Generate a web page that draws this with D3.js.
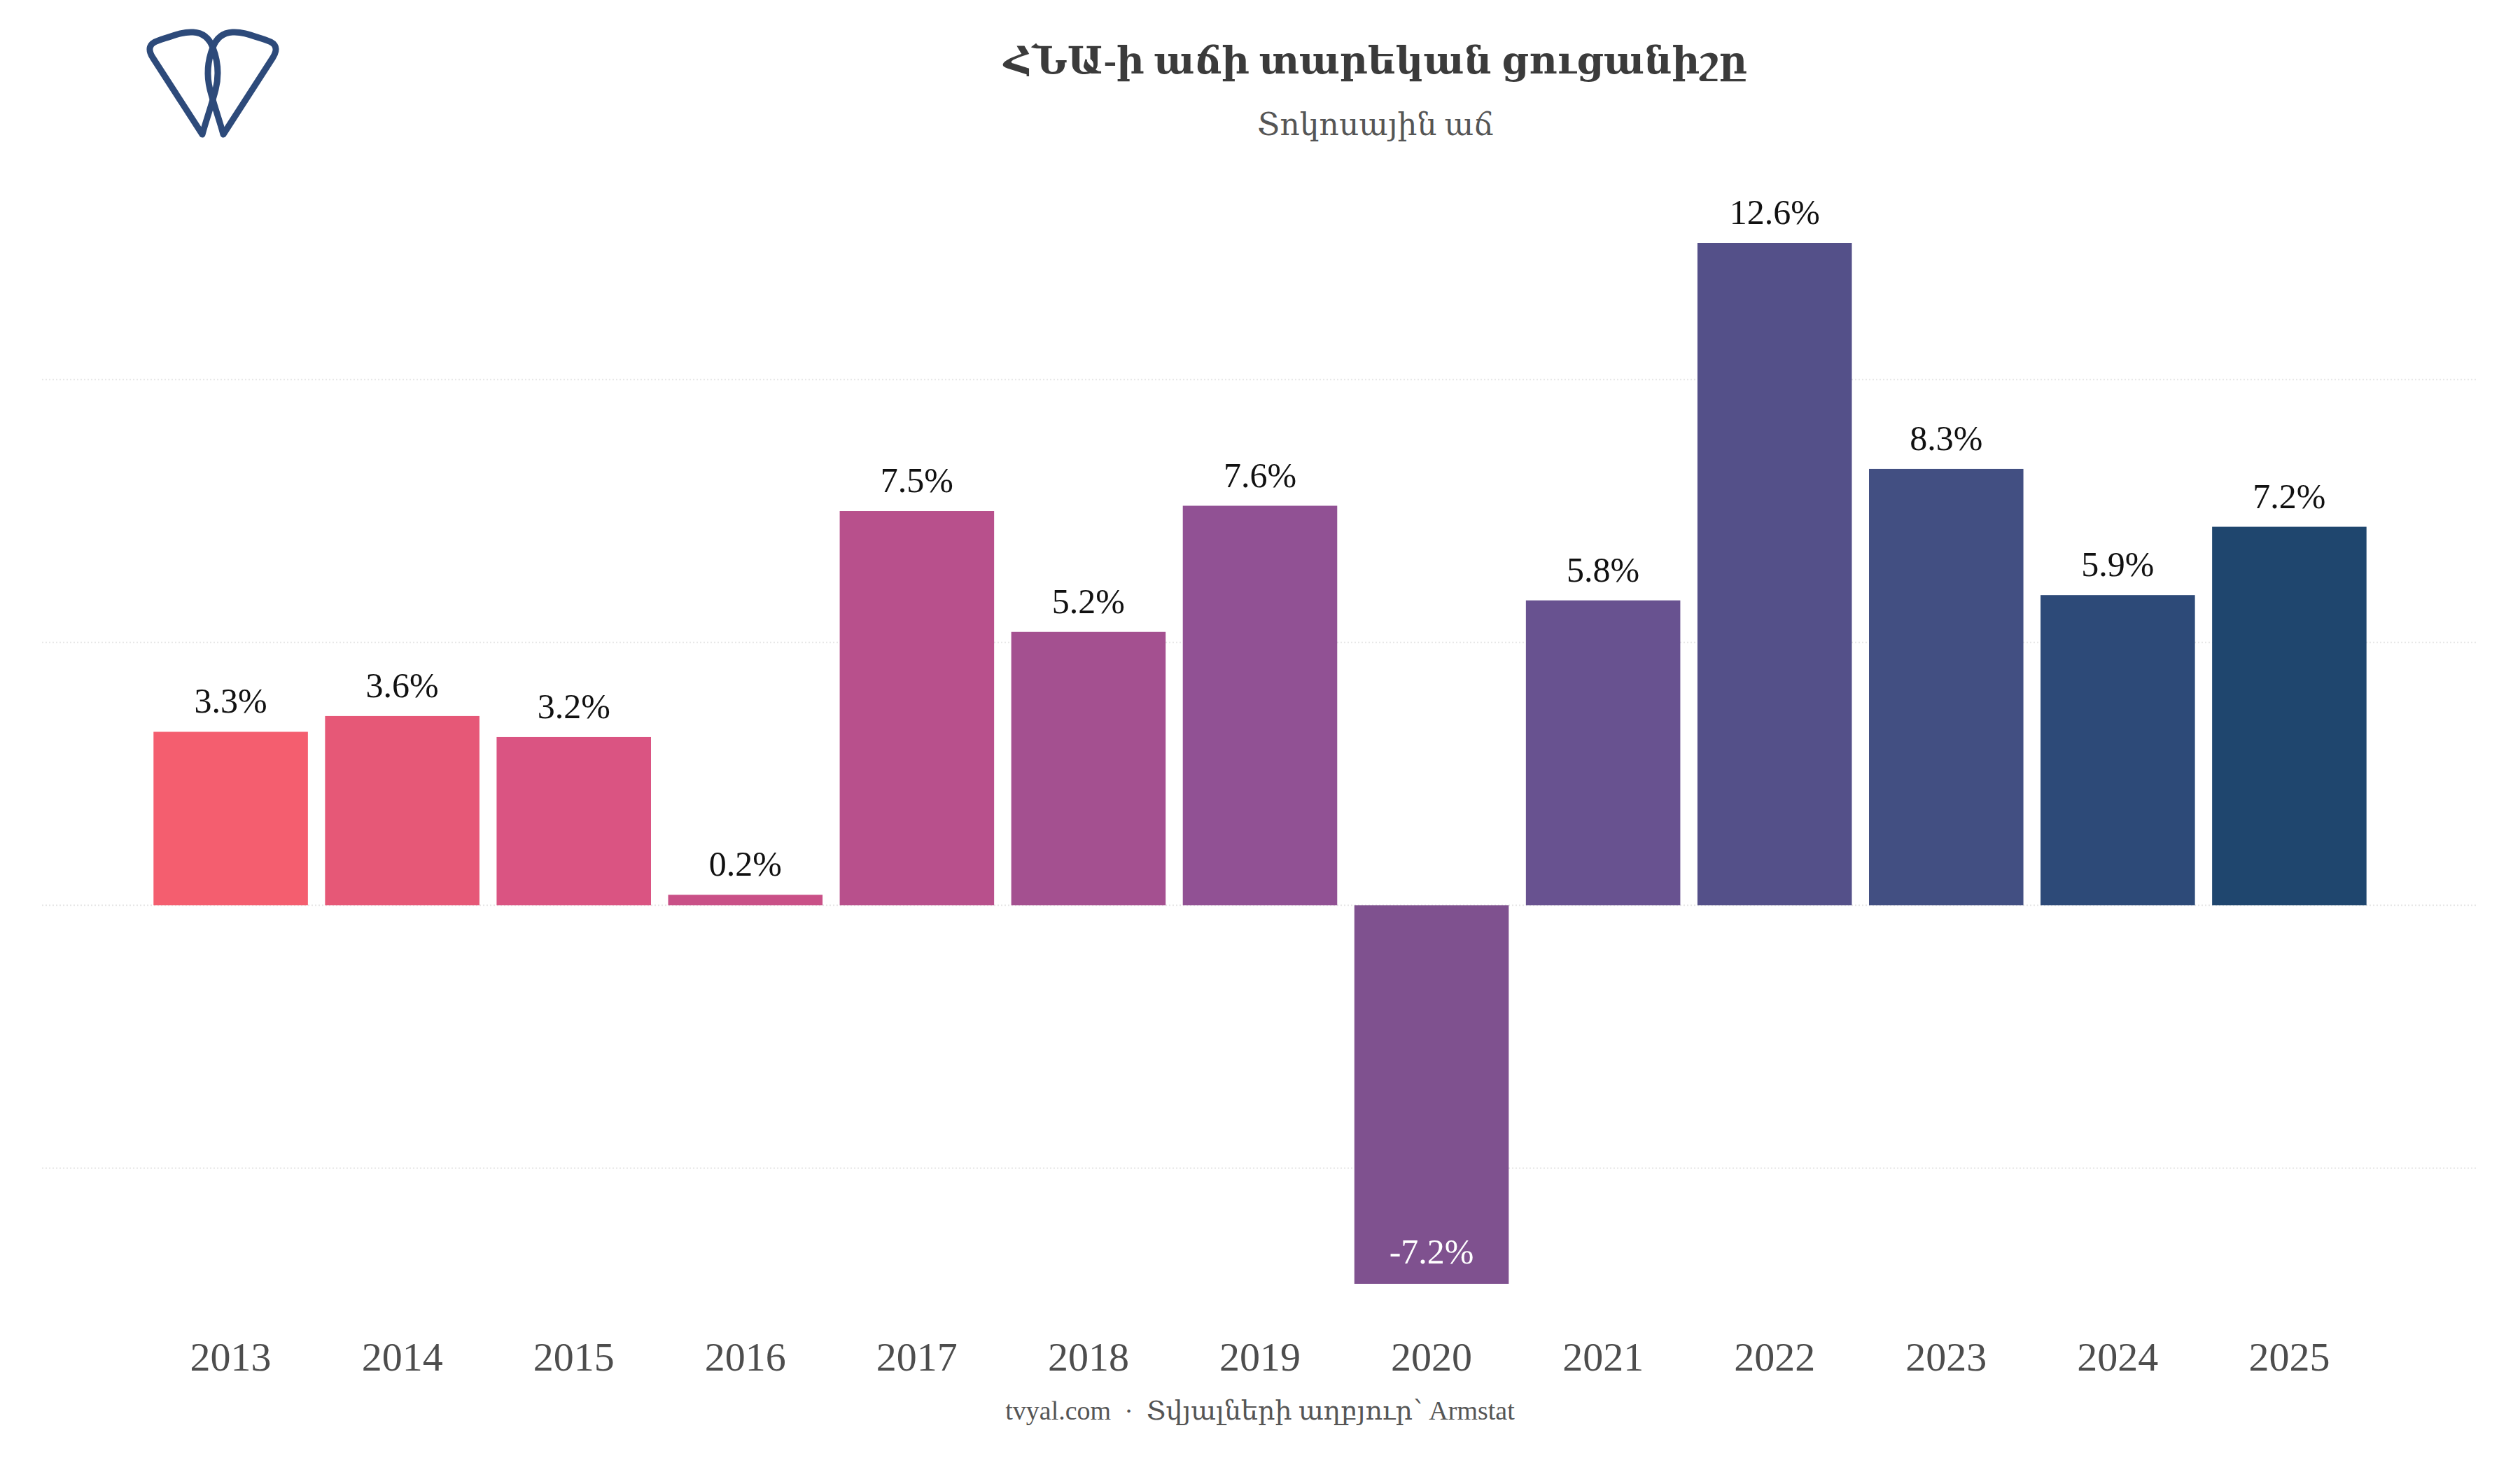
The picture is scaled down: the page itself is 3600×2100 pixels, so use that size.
<!DOCTYPE html>
<html>
<head>
<meta charset="utf-8">
<script src="https://cdn.jsdelivr.net/npm/d3@7"></script>
<style>
	body { margin: 0; background: #fff; }
	svg text { font-family: "Liberation Serif", "DejaVu Serif", serif; }
</style>
</head>
<body>
<svg id="chart"></svg>
<script>
// data
const years = ["2013", "2014", "2015", "2016", "2017", "2018", "2019", "2020", "2021", "2022", "2023", "2024", "2025"];
const growth = [3.3, 3.6, 3.2, 0.2, 7.5, 5.2, 7.6, -7.2, 5.8, 12.6, 8.3, 5.9, 7.2];
const barColors = ["#f45e6f", "#e65877", "#da5482", "#c95087", "#b8508c", "#a45090", "#915194",
	"#7f518f", "#685290", "#545089", "#424f82", "#2d4a78", "#1f466e"];
const gridTicks = [-5, 0, 5, 10];

const titleText = "ՀՆԱ-ի աճի տարեկան ցուցանիշը";
const subtitleText = "Տոկոսային աճ";
const captionText = "tvyal.com  ·  Տվյալների աղբյուր՝ Armstat";

const W = 3600, H = 2100;

const svg = d3.select("#chart")
	.attr("width", W)
	.attr("height", H);

let x = d3.scaleBand()
	.domain(years)
	.range([60, 3540])
	.paddingInner(0.1)
	.paddingOuter(0.65);

let y = d3.scaleLinear()
	.domain(d3.extent(growth))
	.range([1834, 347]);

// grid lines
svg.append("g")
	.selectAll("line")
	.data(gridTicks)
	.join("line")
	.attr("x1", 60)
	.attr("x2", 3540)
	.attr("y1", d => y(d))
	.attr("y2", d => y(d))
	.attr("stroke", "#e6e6e6")
	.attr("stroke-width", 2)
	.attr("stroke-dasharray", "2,3");

// bars
svg.append("g")
	.selectAll("rect")
	.data(years)
	.join("rect")
	.attr("x", d => x(d))
	.attr("width", x.bandwidth())
	.attr("y", (d, i) => y(Math.max(0, growth[i])))
	.attr("height", (d, i) => Math.abs(y(growth[i]) - y(0)))
	.attr("fill", (d, i) => barColors[i]);

// value labels
svg.append("g")
	.selectAll("text")
	.data(years)
	.join("text")
	.attr("x", d => x(d) + x.bandwidth() / 2)
	.attr("y", (d, i) => growth[i] >= 0 ? y(growth[i]) - 27 : y(growth[i]) - 29)
	.attr("text-anchor", "middle")
	.attr("font-size", 50)
	.attr("fill", (d, i) => growth[i] >= 0 ? "#111" : "#fff")
	.text((d, i) => growth[i].toFixed(1) + "%");

// x axis labels
let xAxis = d3.axisBottom(x).tickSize(0).tickPadding(0);
let gx = svg.append("g")
	.attr("transform", "translate(0,1912)")
	.call(xAxis);
gx.select(".domain").remove();
gx.selectAll("text")
	.attr("font-size", 58)
	.attr("fill", "#4d4d4d")
	.attr("dy", "0.8em")
	.style("font-family", "'Liberation Serif', serif");

// titles
svg.append("text")
	.attr("x", 1965)
	.attr("y", 105)
	.attr("text-anchor", "middle")
	.attr("font-size", 55)
	.attr("font-weight", "bold")
	.attr("fill", "#3b3b3b")
	.text(titleText);

svg.append("text")
	.attr("x", 1965)
	.attr("y", 193)
	.attr("text-anchor", "middle")
	.attr("font-size", 44)
	.attr("fill", "#555")
	.text(subtitleText);

svg.append("text")
	.attr("x", 1800)
	.attr("y", 2028)
	.attr("text-anchor", "middle")
	.attr("font-size", 38)
	.attr("fill", "#555")
	.style("white-space", "pre")
	.text(captionText);

// logo
const logo = svg.append("g")
	.attr("fill", "none")
	.attr("stroke", "#2d4a7a")
	.attr("stroke-width", 9)
	.attr("stroke-linejoin", "round")
	.attr("stroke-linecap", "round");
const petal = "M 289,192 L 218,82 Q 207,64 226,58 C 250,50 262,45 276,46 C 292,47 300,57 304,68 C 311,86 313,108 308,128 C 303,148 295,170 289,192 Z";
logo.append("path").attr("d", petal);
logo.append("path").attr("d", petal).attr("transform", "translate(608,0) scale(-1,1)");
</script>
</body>
</html>
